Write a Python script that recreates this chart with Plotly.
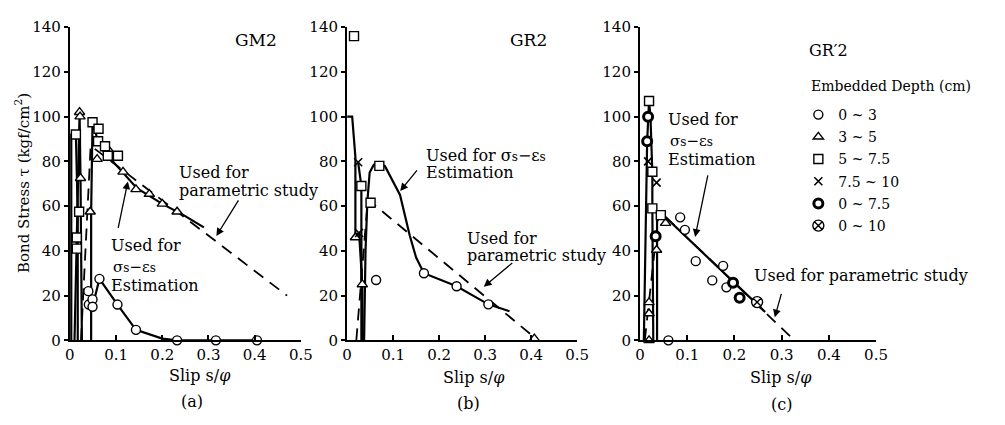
import plotly.graph_objects as go

W, H = 1005, 425

# ---------------- data: panel (a) GM2 ----------------
a_circ_x = [0.040, 0.041, 0.049, 0.049, 0.064, 0.103, 0.143, 0.232, 0.316, 0.405]
a_circ_y = [22, 16, 18.3, 15, 27.5, 16, 4.7, 0, 0, 0]
a_tri_x = [0.021, 0.022, 0.023, 0.044, 0.059, 0.083, 0.115, 0.143, 0.172, 0.200, 0.232]
a_tri_y = [102, 100, 72.5, 57.5, 81, 85.3, 75.3, 67.5, 65.4, 61, 57.5]
a_sq_x = [0.013, 0.015, 0.015, 0.020, 0.049, 0.062, 0.061, 0.076, 0.082, 0.104]
a_sq_y = [92, 46, 41, 57.5, 97.5, 94.6, 89, 86.8, 82.5, 82.5]

a_spike1_x = [0.003, 0.003, 0.013, 0.017, 0.017]
a_spike1_y = [0, 92, 92, 57, 0]
a_spike2_x = [0.010, 0.021, 0.023, 0.026]
a_spike2_y = [0, 102, 72.5, 0]
a_main_x = [0.046, 0.046, 0.049, 0.061, 0.080, 0.115, 0.145, 0.200, 0.246, 0.290]
a_main_y = [0, 57, 97.5, 89, 83, 75, 68, 61, 56, 50.5]
a_est_x = [0.049, 0.064, 0.103, 0.143, 0.200, 0.232, 0.410]
a_est_y = [15, 27.5, 16, 4.7, 0.8, 0, 0]
a_par_x = [0.024, 0.045, 0.470]
a_par_y = [0, 87, 20]

# ---------------- data: panel (b) GR2 ----------------
b_circ_x = [0.063, 0.167, 0.238, 0.307]
b_circ_y = [27, 30, 24.2, 16.1]
b_tri_x = [0.018, 0.033, 0.407]
b_tri_y = [46, 25, 0.8]
b_sq_x = [0.015, 0.031, 0.051, 0.070]
b_sq_y = [136, 69, 61.5, 78]
b_x_x = [0.024, 0.026]
b_x_y = [79.6, 48]

b_spike1_x = [0.0, 0.011, 0.018, 0.018, 0.026, 0.033, 0.034]
b_spike1_y = [100, 100, 82, 47, 48, 25, 0]
b_spike2_x = [0.031, 0.031, 0.024]
b_spike2_y = [0, 69, 79.6]
b_est_x = [0.037, 0.040, 0.044, 0.049, 0.058, 0.070, 0.082, 0.092, 0.115, 0.136,
           0.150, 0.167, 0.238, 0.307, 0.353]
b_est_y = [0, 40, 62, 75, 78.5, 79, 78, 74, 65, 47, 37, 30, 24.2, 16.1, 13]
b_par_x = [0.020, 0.045, 0.415]
b_par_y = [0, 63, 0]

# ---------------- data: panel (c) GR'2 ----------------
c_circ_x = [0.060, 0.085, 0.095, 0.118, 0.153, 0.176, 0.183]
c_circ_y = [0, 55, 49.4, 35.4, 26.8, 33.3, 23.7]
c_tri_x = [0.019, 0.019, 0.019, 0.035, 0.054]
c_tri_y = [17, 12, 0, 40.4, 52.4]
c_sq_x = [0.019, 0.026, 0.026, 0.044]
c_sq_y = [107, 75.4, 59, 56]
c_x_x = [0.017, 0.035]
c_x_y = [80, 70.5]
c_bc_x = [0.015, 0.017, 0.033, 0.197, 0.211]
c_bc_y = [89, 100, 46.5, 25.7, 19]
c_ox_x = [0.248]
c_ox_y = [17.1]

c_spike_x = [0.008, 0.015, 0.019, 0.022, 0.026, 0.026, 0.028]
c_spike_y = [0, 89, 107, 100, 75, 59, 0]
c_main_x = [0.036, 0.036, 0.054, 0.265]
c_main_y = [0, 56, 55, 12.7]
c_par_x = [0.010, 0.040, 0.327]
c_par_y = [0, 58, 0]

# legend categories (embedded depth, cm)
cat_names = ["0 ~ 3", "3 ~ 5", "5 ~ 7.5", "7.5 ~ 10", "0 ~ 7.5", "0 ~ 10"]
x_ticks = [0, 0.1, 0.2, 0.3, 0.4, 0.5]
x_ticktext = ["0", "0.1", "0.2", "0.3", "0.4", "0.5"]
y_ticks = [0, 20, 40, 60, 80, 100, 120, 140]

FONT = "DejaVu Serif"
LW = 2.2

def px(x):
    return x / W

def py(y):
    return 1 - y / H

mk_line = dict(color="black", width=1.4)
cat_style = {
    "0 ~ 3": dict(symbol="circle", size=9, color="white", line=mk_line),
    "3 ~ 5": dict(symbol="triangle-up", size=9, color="white", line=mk_line),
    "5 ~ 7.5": dict(symbol="square", size=9, color="white", line=mk_line),
    "7.5 ~ 10": dict(symbol="x-thin", size=8, color="black", line=dict(color="black", width=1.6)),
    "0 ~ 7.5": dict(symbol="circle", size=9, color="white", line=dict(color="black", width=3)),
    "0 ~ 10": dict(symbol="circle-x", size=11, color="white", line=mk_line),
}

fig = go.Figure()

panels = [
    ("x", "y", [(a_spike1_x, a_spike1_y), (a_spike2_x, a_spike2_y), (a_main_x, a_main_y), (a_est_x, a_est_y)],
     (a_par_x, a_par_y),
     {"0 ~ 3": (a_circ_x, a_circ_y), "3 ~ 5": (a_tri_x, a_tri_y), "5 ~ 7.5": (a_sq_x, a_sq_y)}),
    ("x2", "y2", [(b_spike1_x, b_spike1_y), (b_spike2_x, b_spike2_y), (b_est_x, b_est_y)],
     (b_par_x, b_par_y),
     {"0 ~ 3": (b_circ_x, b_circ_y), "3 ~ 5": (b_tri_x, b_tri_y), "5 ~ 7.5": (b_sq_x, b_sq_y),
      "7.5 ~ 10": (b_x_x, b_x_y)}),
    ("x3", "y3", [(c_spike_x, c_spike_y), (c_main_x, c_main_y)],
     (c_par_x, c_par_y),
     {"0 ~ 3": (c_circ_x, c_circ_y), "3 ~ 5": (c_tri_x, c_tri_y), "5 ~ 7.5": (c_sq_x, c_sq_y),
      "7.5 ~ 10": (c_x_x, c_x_y), "0 ~ 7.5": (c_bc_x, c_bc_y), "0 ~ 10": (c_ox_x, c_ox_y)}),
]

shown = set()
for xa, ya, solids, dashed, markers in panels:
    fig.add_trace(go.Scatter(x=dashed[0], y=dashed[1], mode="lines", xaxis=xa, yaxis=ya,
                             line=dict(color="black", width=1.8, dash="12px,8px"),
                             showlegend=False, hoverinfo="skip"))
    for sx, sy in solids:
        fig.add_trace(go.Scatter(x=sx, y=sy, mode="lines", xaxis=xa, yaxis=ya,
                                 line=dict(color="black", width=LW),
                                 showlegend=False, hoverinfo="skip"))
    for name in cat_names:
        if name not in markers:
            continue
        mx, my = markers[name]
        fig.add_trace(go.Scatter(x=mx, y=my, mode="markers", xaxis=xa, yaxis=ya,
                                 marker=cat_style[name], name=name,
                                 legendgroup=name, legendrank=cat_names.index(name) + 1,
                                 showlegend=name not in shown, cliponaxis=False))
        shown.add(name)

# axes
x_doms = [(66, 301), (348, 582), (646, 886)]
y_dom = [py(346), py(19)]
for i, (l, r) in enumerate(x_doms):
    sfx = "" if i == 0 else str(i + 1)
    fig.layout["xaxis" + sfx] = dict(
        domain=[px(l), px(r)], range=[0, 0.5], anchor="y" + sfx,
        showline=True, linecolor="black", linewidth=2, showgrid=False, zeroline=False,
        ticks="inside", ticklen=5, tickwidth=1.5, tickcolor="black",
        tickvals=x_ticks, ticktext=x_ticktext,
        tickfont=dict(family=FONT, size=15, color="black"))
    fig.layout["yaxis" + sfx] = dict(
        domain=y_dom, range=[0, 140], anchor="x" + sfx,
        showline=True, linecolor="black", linewidth=2.2, showgrid=False, zeroline=False,
        ticks="outside", ticklen=4, tickwidth=1.5, tickcolor="black",
        tickvals=y_ticks, ticklabelstandoff=0,
        tickfont=dict(family=FONT, size=15, color="black"))

ann = []

def txt(x, y, t, size=15, anchor="left", angle=0):
    ann.append(dict(x=px(x), y=py(y), xref="paper", yref="paper", text=t, showarrow=False,
                    xanchor=anchor, yanchor="middle", textangle=angle,
                    font=dict(family=FONT, size=size, color="black")))

def arrow(tx, ty, hx, hy):
    ann.append(dict(x=px(hx), y=py(hy), xref="paper", yref="paper", text="",
                    showarrow=True, ax=tx - hx, ay=ty - hy, arrowhead=2, arrowsize=1.2,
                    arrowwidth=1.3, arrowcolor="black"))

sig = "σ<span style='font-size:12px'>s</span>−ε<span style='font-size:12px'>s</span>"

# panel (a)
txt(255, 32, "GM2", 17, "center")
txt(175, 171, "Used for", 16)
txt(175, 190, "parametric study", 16)
arrow(238, 200, 215, 237)
txt(106, 247, "Used for", 16)
txt(108, 269, sig, 15)
txt(106, 289, "Estimation", 16)
arrow(115, 228, 125, 180)

# panel (b)
txt(532, 32, "GR2", 17, "center")
txt(426, 153, "Used for " + sig, 16)
txt(426, 171, "Estimation", 16)
arrow(420, 168, 402, 190)
txt(468, 240, "Used for", 16)
txt(468, 257, "parametric study", 16)
arrow(517, 265, 487, 290)

# panel (c)
txt(838, 43, "GR′2", 16, "center")
txt(818, 80, "Embedded Depth (cm)", 14)
txt(672, 115, "Used for", 16)
txt(674, 138, sig, 15)
txt(672, 157, "Estimation", 16)
arrow(715, 175, 702, 238)
txt(871, 278, "Used for parametric study", 16, "center")
arrow(790, 297, 783, 322)

# axis titles / panel captions
txt(18, 182, "Bond Stress τ (kgf/cm<sup>2</sup>)", 15, "center", -90)
txt(198, 383, "Slip s/<i>φ</i>", 16, "center")
txt(477, 385, "Slip s/<i>φ</i>", 16, "center")
txt(789, 385, "Slip s/<i>φ</i>", 16, "center")
txt(190, 410, "(a)", 16, "center")
txt(471, 412, "(b)", 16, "center")
txt(790, 413, "(c)", 16, "center")

fig.update_layout(
    width=W, height=H, margin=dict(l=0, r=0, t=0, b=0),
    paper_bgcolor="white", plot_bgcolor="white",
    annotations=ann,
    showlegend=True,
    legend=dict(x=px(807), y=py(94), xanchor="left", yanchor="top",
                font=dict(family=FONT, size=14, color="black"),
                bgcolor="rgba(0,0,0,0)", tracegroupgap=1, itemsizing="trace"),
    font=dict(family=FONT, color="black"),
)

fig.write_html("out.html")
